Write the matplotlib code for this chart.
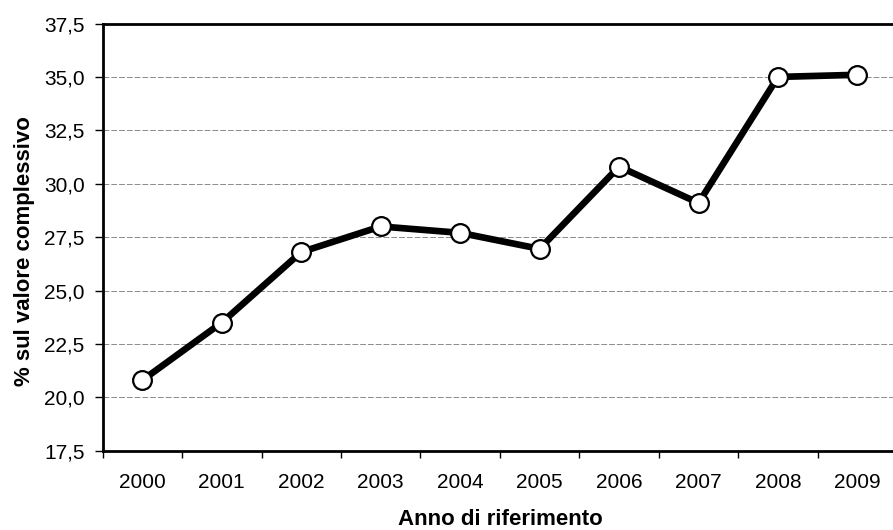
import matplotlib.pyplot as plt
from matplotlib.ticker import FuncFormatter, MultipleLocator, FixedLocator
import numpy as np

plt.rcParams['font.family'] = ['Liberation Sans', 'DejaVu Sans']

anni = ['2000', '2001', '2002', '2003', '2004', '2005', '2006', '2007', '2008', '2009']
quota = [20.8, 23.5, 26.8, 28.0, 27.7, 26.95, 30.8, 29.1, 35.0, 35.1]

fig = plt.figure(figsize=(8.93, 5.30), dpi=100)
ax = fig.add_axes([0.1149, 0.1496, 0.8898, 0.806])

x = np.arange(len(anni))
ax.plot(x, quota, color='black', linewidth=4.8, marker='o', markersize=13.5,
        markerfacecolor='white', markeredgecolor='black', markeredgewidth=1.6,
        zorder=3)

ax.set_xlim(-0.5, len(anni) - 0.5)
ax.set_ylim(17.5, 37.5)
ax.yaxis.set_major_locator(MultipleLocator(2.5))
ax.yaxis.set_major_formatter(FuncFormatter(lambda v, p: f'{v:.1f}'.replace('.', ',')))

# year labels centred, tick marks between the categories
ax.set_xticks(x)
ax.set_xticklabels(anni)
ax.xaxis.set_minor_locator(FixedLocator(np.arange(-0.5, len(anni), 1.0)))
ax.tick_params(axis='x', which='major', length=0, pad=16, labelsize=15)
ax.tick_params(axis='x', which='minor', length=5, width=1, direction='out')
ax.tick_params(axis='y', which='major', length=6, width=1, direction='out',
               pad=7, labelsize=15)

ax.grid(axis='y', color='#8c8c8c', linestyle=(0, (6, 2)), linewidth=0.7)
ax.set_axisbelow(True)

for s in ('left', 'top', 'bottom'):
    ax.spines[s].set_linewidth(2)
    ax.spines[s].set_color('black')
ax.spines['right'].set_visible(False)

ax.set_xlabel('Anno di riferimento', fontsize=16, fontweight='bold', labelpad=12)
ax.set_ylabel('% sul valore complessivo', fontsize=16, fontweight='bold', labelpad=6)
ax.yaxis.label.set_y(0.467)

fig.savefig('out.png', dpi=100)
